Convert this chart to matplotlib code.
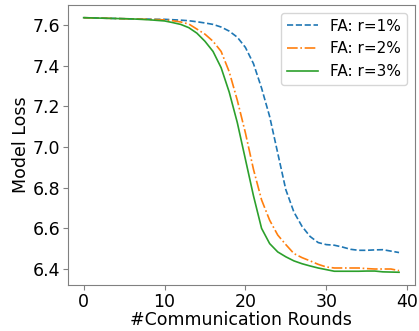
import matplotlib
matplotlib.use("Agg")
import matplotlib.pyplot as plt
import numpy as np

rounds = np.arange(40)

# model loss, one value per communication round
loss_r1 = [7.636, 7.635, 7.634, 7.633, 7.632, 7.631, 7.630, 7.629, 7.629, 7.628,
           7.628, 7.626, 7.624, 7.621, 7.616, 7.610, 7.603, 7.590, 7.570, 7.540,
           7.490, 7.410, 7.290, 7.150, 6.970, 6.790, 6.680, 6.610, 6.560, 6.530,
           6.520, 6.517, 6.508, 6.497, 6.492, 6.492, 6.494, 6.495, 6.488, 6.481]
loss_r2 = [7.636, 7.635, 7.634, 7.633, 7.632, 7.631, 7.630, 7.629, 7.628, 7.627,
           7.625, 7.621, 7.615, 7.605, 7.580, 7.555, 7.520, 7.470, 7.370, 7.230,
           7.070, 6.890, 6.740, 6.640, 6.567, 6.520, 6.476, 6.456, 6.440, 6.423,
           6.410, 6.405, 6.405, 6.405, 6.405, 6.402, 6.400, 6.400, 6.400, 6.392]
loss_r3 = [7.636, 7.635, 7.634, 7.633, 7.632, 7.631, 7.630, 7.628, 7.626, 7.623,
           7.620, 7.612, 7.603, 7.587, 7.560, 7.520, 7.470, 7.390, 7.270, 7.120,
           6.940, 6.760, 6.600, 6.525, 6.484, 6.460, 6.440, 6.426, 6.415, 6.405,
           6.397, 6.389, 6.389, 6.389, 6.389, 6.390, 6.390, 6.386, 6.385, 6.384]

labels = ["FA: r=1%", "FA: r=2%", "FA: r=3%"]

fig = plt.figure(figsize=(4.19, 3.31), dpi=100)
ax = fig.add_axes([0.162, 0.139, 0.828, 0.846])

ax.plot(rounds, loss_r1, "--", color="tab:blue", lw=1.2, label=labels[0])
ax.plot(rounds, loss_r2, "-.", color="tab:orange", lw=1.2, label=labels[1])
ax.plot(rounds, loss_r3, "-", color="tab:green", lw=1.2, label=labels[2])

ax.set_xlabel("#Communication Rounds", fontsize=12.5, labelpad=0)
ax.set_ylabel("Model Loss", fontsize=12.5, labelpad=2)
ax.set_xticks([0, 10, 20, 30, 40])
ax.set_yticks([6.4, 6.6, 6.8, 7.0, 7.2, 7.4, 7.6])
ax.tick_params(labelsize=12.5, color="gray", pad=2)
for s in ax.spines.values():
    s.set_color("gray")

ax.legend(loc="upper right", fontsize=11)

fig.savefig("out.png", dpi=100)
